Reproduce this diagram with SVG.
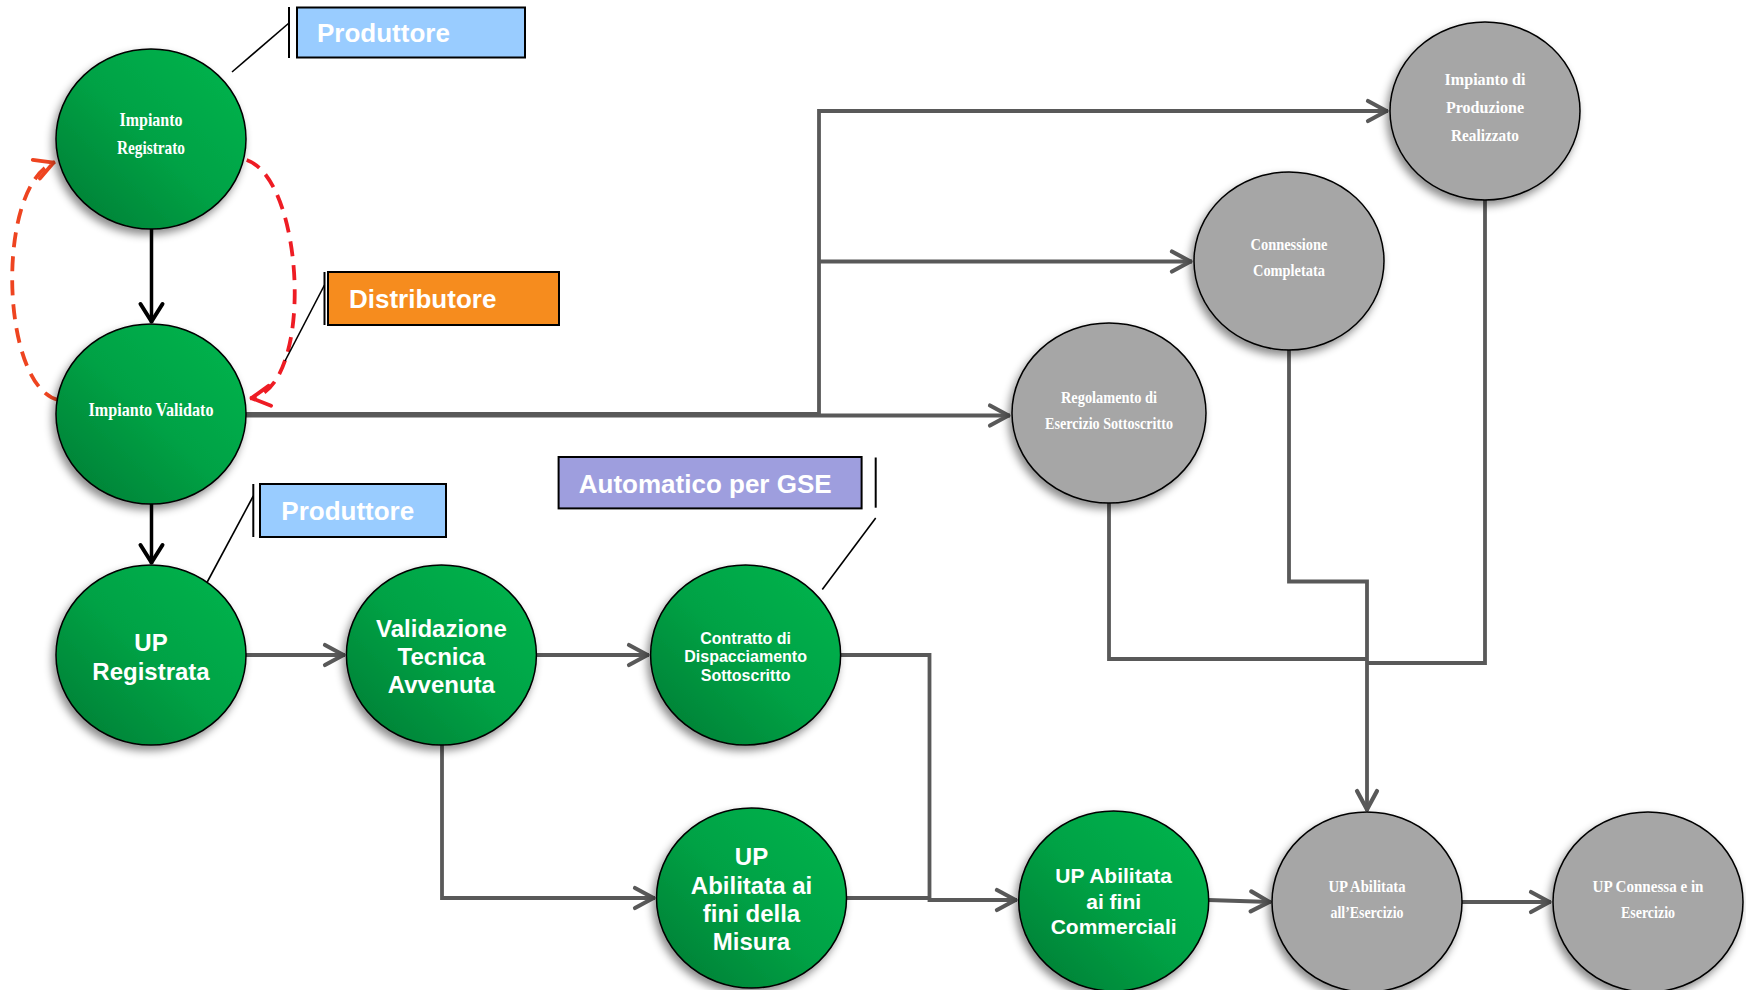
<svg xmlns="http://www.w3.org/2000/svg" width="1746" height="990" viewBox="0 0 1746 990">
<style>
.green{fill:url(#gGreen);stroke:#000;stroke-width:1.5;filter:url(#shadow)}
.gray{fill:#A6A6A6;stroke:#000;stroke-width:1.5;filter:url(#shadow)}
.serif{font-family:"Liberation Serif","Times New Roman",serif;font-weight:bold;fill:#fff;text-anchor:middle}
.sans{font-family:"Liberation Sans",Arial,sans-serif;font-weight:bold;fill:#fff;text-anchor:middle}
.lbl{font-family:"Liberation Sans",Arial,sans-serif;font-weight:bold;fill:#fff;font-size:26px}
.box{stroke:#000;stroke-width:2}
.thin{stroke:#000;stroke-width:2;fill:none}
.lead{stroke:#000;stroke-width:1.6;fill:none}
.conn{fill:none;stroke:#595959;stroke-width:3.8}
.blk{fill:none;stroke:#000;stroke-width:3.5}
</style>
<defs>
<linearGradient id="gGreen" x1="1" y1="0" x2="0" y2="1">
<stop offset="0" stop-color="#00B64E"/>
<stop offset="0.5" stop-color="#00A245"/>
<stop offset="1" stop-color="#007A33"/>
</linearGradient>
<filter id="shadow" x="-20%" y="-20%" width="140%" height="140%">
<feDropShadow dx="-3" dy="5" stdDeviation="4" flood-color="#000" flood-opacity="0.45"/>
</filter>
<marker id="aGray" markerUnits="userSpaceOnUse" markerWidth="30" markerHeight="30" viewBox="-25 -15 30 30" refX="0" refY="0" orient="auto">
<path d="M-20,-10 L-1.5,0 L-20,10" fill="none" stroke="#595959" stroke-width="4.2" stroke-linecap="round" stroke-linejoin="round"/>
</marker>
<marker id="aBlk" markerUnits="userSpaceOnUse" markerWidth="30" markerHeight="30" viewBox="-25 -15 30 30" refX="0" refY="0" orient="auto">
<path d="M-19,-11 L-1.5,0 L-19,11" fill="none" stroke="#000" stroke-width="4" stroke-linecap="round" stroke-linejoin="round"/>
</marker>
<marker id="aOr" markerUnits="userSpaceOnUse" markerWidth="30" markerHeight="30" viewBox="-25 -15 30 30" refX="0" refY="0" orient="auto">
<path d="M-20,-10 L-1.5,0 L-20,10" fill="none" stroke="#EE4420" stroke-width="3.8" stroke-linecap="round" stroke-linejoin="round"/>
</marker>
<marker id="aRed" markerUnits="userSpaceOnUse" markerWidth="30" markerHeight="30" viewBox="-25 -15 30 30" refX="0" refY="0" orient="auto">
<path d="M-20,-10 L-1.5,0 L-20,10" fill="none" stroke="#EE1C24" stroke-width="3.8" stroke-linecap="round" stroke-linejoin="round"/>
</marker>
</defs>
<rect width="1746" height="990" fill="#fff"/>

<g id="connectors">
<path class="conn" d="M246,414 H819 V111 H1388" marker-end="url(#aGray)"/>
<path class="conn" d="M819,261.5 H1192" marker-end="url(#aGray)"/>
<path class="conn" d="M246,415.5 H1010" marker-end="url(#aGray)"/>
<path class="conn" d="M246,655 H345" marker-end="url(#aGray)"/>
<path class="conn" d="M536.5,655 H649" marker-end="url(#aGray)"/>
<path class="conn" d="M442,745 V898 H655" marker-end="url(#aGray)"/>
<path class="conn" d="M840.5,655 H929.5 V900 H1017" marker-end="url(#aGray)"/>
<path class="conn" d="M846,898 H929.5"/>
<path class="conn" d="M1208,900 L1271,902" marker-end="url(#aGray)"/>
<path class="conn" d="M1462,902 H1551" marker-end="url(#aGray)"/>
<path class="conn" d="M1109,503 V659 H1367"/>
<path class="conn" d="M1485,200 V663 H1367"/>
<path class="conn" d="M1289,350 V581.5 H1367 V811" marker-end="url(#aGray)"/>
<path class="blk" d="M151.5,229 V323" marker-end="url(#aBlk)"/>
<path class="blk" d="M151.5,504 V564" marker-end="url(#aBlk)"/>
<path d="M58,400 C0,385 -5,185 55,162" fill="none" stroke="#EE4420" stroke-width="3.8" stroke-dasharray="15 9" marker-end="url(#aOr)"/>
<path d="M246.7,160 C305,180 315,390 250,398.3" fill="none" stroke="#EE1C24" stroke-width="3.8" stroke-dasharray="15 9" marker-end="url(#aRed)"/>
</g>

<g id="label-produttore-1">
<line class="lead" x1="289" y1="23" x2="232" y2="72"/>
<line class="thin" x1="289" y1="7" x2="289" y2="58"/>
<rect class="box" x="297" y="7.5" width="228" height="50" fill="#99CCFF"/>
<text class="lbl" x="317" y="41.7">Produttore</text>
</g>
<g id="label-distributore">
<line class="lead" x1="324.5" y1="285" x2="285" y2="361"/>
<line class="thin" x1="324.5" y1="272" x2="324.5" y2="325"/>
<rect class="box" x="328" y="272" width="231" height="53" fill="#F68C1E"/>
<text class="lbl" x="349" y="307.5">Distributore</text>
</g>
<g id="label-produttore-2">
<line class="lead" x1="253.3" y1="496" x2="206.7" y2="583"/>
<line class="thin" x1="253.3" y1="484" x2="253.3" y2="537"/>
<rect class="box" x="260" y="484" width="186" height="53" fill="#99CCFF"/>
<text class="lbl" x="281.3" y="520">Produttore</text>
</g>
<g id="label-automatico">
<line class="lead" x1="875.7" y1="518" x2="822.3" y2="589.4"/>
<line class="thin" x1="875.7" y1="457.5" x2="875.7" y2="507.7"/>
<rect class="box" x="558.6" y="457" width="303" height="51.4" fill="#9E9EDE"/>
<text class="lbl" x="578.8" y="492.6">Automatico per GSE</text>
</g>

<g id="node-impianto-registrato">
<ellipse class="green" cx="151" cy="139" rx="95" ry="90"/>
<text class="serif" font-size="19"><tspan x="151" y="126" textLength="63" lengthAdjust="spacingAndGlyphs">Impianto</tspan><tspan x="151" y="154" textLength="68" lengthAdjust="spacingAndGlyphs">Registrato</tspan></text>
</g>
<g id="node-impianto-validato">
<ellipse class="green" cx="151" cy="414" rx="95" ry="90"/>
<text class="serif" font-size="19" x="151" y="415.5" textLength="125" lengthAdjust="spacingAndGlyphs">Impianto Validato</text>
</g>
<g id="node-up-registrata">
<ellipse class="green" cx="151" cy="655" rx="95" ry="90"/>
<text class="sans" font-size="24"><tspan x="151" y="651">UP</tspan><tspan x="151" y="680">Registrata</tspan></text>
</g>
<g id="node-validazione">
<ellipse class="green" cx="441.4" cy="655" rx="95" ry="90"/>
<text class="sans" font-size="24"><tspan x="441.4" y="636.5">Validazione</tspan><tspan x="441.4" y="664.5">Tecnica</tspan><tspan x="441.4" y="693">Avvenuta</tspan></text>
</g>
<g id="node-contratto">
<ellipse class="green" cx="745.6" cy="655" rx="95" ry="90"/>
<text class="sans" font-size="16"><tspan x="745.6" y="643.5">Contratto di</tspan><tspan x="745.6" y="662">Dispacciamento</tspan><tspan x="745.6" y="681">Sottoscritto</tspan></text>
</g>
<g id="node-up-misura">
<ellipse class="green" cx="751.5" cy="898" rx="95" ry="90"/>
<text class="sans" font-size="24"><tspan x="751.5" y="864.5">UP</tspan><tspan x="751.5" y="893.5">Abilitata ai</tspan><tspan x="751.5" y="922">fini della</tspan><tspan x="751.5" y="950">Misura</tspan></text>
</g>
<g id="node-up-commerciali">
<ellipse class="green" cx="1113.7" cy="901" rx="95" ry="90"/>
<text class="sans" font-size="21"><tspan x="1113.7" y="883">UP Abilitata</tspan><tspan x="1113.7" y="908.5">ai fini</tspan><tspan x="1113.7" y="933.5">Commerciali</tspan></text>
</g>
<g id="node-regolamento">
<ellipse class="gray" cx="1109" cy="413" rx="97" ry="90"/>
<text class="serif" font-size="17"><tspan x="1109" y="402.5" textLength="96" lengthAdjust="spacingAndGlyphs">Regolamento di</tspan><tspan x="1109" y="428.5" textLength="128" lengthAdjust="spacingAndGlyphs">Esercizio Sottoscritto</tspan></text>
</g>
<g id="node-connessione">
<ellipse class="gray" cx="1289" cy="261" rx="95" ry="89"/>
<text class="serif" font-size="17"><tspan x="1289" y="249.5" textLength="77" lengthAdjust="spacingAndGlyphs">Connessione</tspan><tspan x="1289" y="275.5" textLength="72" lengthAdjust="spacingAndGlyphs">Completata</tspan></text>
</g>
<g id="node-impianto-produzione">
<ellipse class="gray" cx="1485" cy="111" rx="95" ry="89"/>
<text class="serif" font-size="17"><tspan x="1485" y="84.5" textLength="81" lengthAdjust="spacingAndGlyphs">Impianto di</tspan><tspan x="1485" y="112.5" textLength="78" lengthAdjust="spacingAndGlyphs">Produzione</tspan><tspan x="1485" y="140.5" textLength="68" lengthAdjust="spacingAndGlyphs">Realizzato</tspan></text>
</g>
<g id="node-up-esercizio">
<ellipse class="gray" cx="1367" cy="902" rx="95" ry="90"/>
<text class="serif" font-size="17"><tspan x="1367" y="891.5" textLength="77" lengthAdjust="spacingAndGlyphs">UP Abilitata</tspan><tspan x="1367" y="917.5" textLength="73" lengthAdjust="spacingAndGlyphs">all’Esercizio</tspan></text>
</g>
<g id="node-up-connessa">
<ellipse class="gray" cx="1648" cy="902" rx="95" ry="90"/>
<text class="serif" font-size="17"><tspan x="1648" y="891.5" textLength="111" lengthAdjust="spacingAndGlyphs">UP Connessa e in</tspan><tspan x="1648" y="917.5" textLength="54" lengthAdjust="spacingAndGlyphs">Esercizio</tspan></text>
</g>
</svg>
